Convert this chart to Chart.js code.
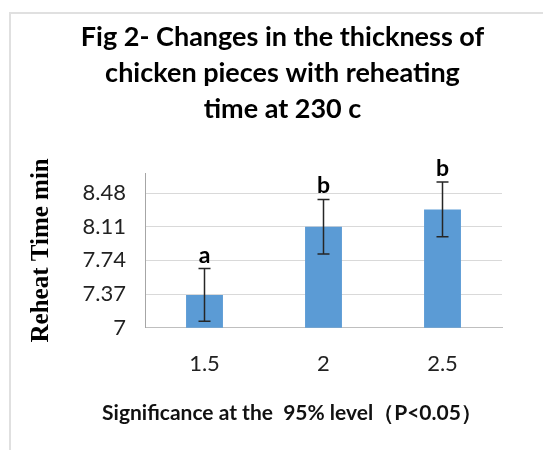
<!DOCTYPE html>
<html>
<head>
<meta charset="utf-8">
<script src="https://cdn.jsdelivr.net/npm/chart.js@4"></script>
<style>
  body { margin: 0; background: #fff; overflow: hidden; }
  #frame { position: absolute; left: 9px; top: 12px; width: 600px; height: 500px; border: 2px solid #e0e0e0; }
  #wrap { position: absolute; left: 0; top: 0; width: 543px; height: 450px; }
</style>
</head>
<body>
<div id="frame"></div>
<div id="wrap"><canvas id="barChart" width="543" height="450"></canvas></div>
<script>
// reheating time groups and measured values
const categories = ['1.5', '2', '2.5'];
const means = [7.36, 8.11, 8.30];
const errors = [0.29, 0.30, 0.30];
const sigLetters = ['a', 'b', 'b'];
const yTicks = [7, 7.37, 7.74, 8.11, 8.48];
const yTickLabels = ['7', '7.37', '7.74', '8.11', '8.48'];

const titleLines = ['Fig 2- Changes in the thickness of', 'chicken pieces with reheating', 'time at 230 c'];
const yTitle = 'Reheat Time min';
const xTitle = 'Significance at the  95% level\uFF08P<0.05\uFF09';

// error bars, letters and the x axis caption
const extras = {
  id: 'extras',
  afterDatasetsDraw(chart) {
    const ctx = chart.ctx;
    const meta = chart.getDatasetMeta(0);
    const y = chart.scales.y;
    ctx.save();
    ctx.strokeStyle = '#262626';
    ctx.lineWidth = 1.5;
    meta.data.forEach((bar, i) => {
      const top = y.getPixelForValue(means[i] + errors[i]);
      const bot = y.getPixelForValue(means[i] - errors[i]);
      ctx.beginPath();
      ctx.moveTo(bar.x, top); ctx.lineTo(bar.x, bot);
      ctx.moveTo(bar.x - 6, top); ctx.lineTo(bar.x + 6, top);
      ctx.moveTo(bar.x - 6, bot); ctx.lineTo(bar.x + 6, bot);
      ctx.stroke();

      ctx.fillStyle = '#000';
      ctx.font = 'bold 23px Lato';
      ctx.textAlign = 'center';
      ctx.textBaseline = 'alphabetic';
      ctx.fillText(sigLetters[i], bar.x, top - 6);
    });

    ctx.fillStyle = '#111';
    ctx.font = 'bold 21px Lato';
    ctx.textAlign = 'center';
    ctx.textBaseline = 'middle';
    ctx.fillText(xTitle, 292, 413);
    ctx.restore();
  }
};

let ctxBar = document.getElementById('barChart').getContext('2d');

let BarChart = new Chart(ctxBar, {
  type: 'bar',
  data: {
    labels: categories,
    datasets: [{
      data: means,
      backgroundColor: '#5b9bd5',
      barPercentage: 0.31,
      categoryPercentage: 1,
    }]
  },
  options: {
    responsive: false,
    animation: false,
    layout: { padding: { left: 22, right: 0, top: 0, bottom: 0 } },
    plugins: {
      legend: { display: false },
      tooltip: { enabled: false },
      title: {
        display: true,
        text: titleLines,
        color: '#000',
        font: { family: 'Lato', size: 27, weight: 'bold', lineHeight: 36 / 27 },
        padding: { top: 19, bottom: 46 },
      }
    },
    scales: {
      x: {
        grid: { display: false, drawTicks: false },
        border: { color: '#bfbfbf' },
        ticks: { color: '#222', font: { family: 'Lato', size: 22 }, padding: 23 },
        afterFit: (scale) => { scale.height = 122.3; }
      },
      y: {
        min: 7,
        max: 8.7,
        grid: { color: '#d9d9d9', drawTicks: false },
        border: { color: '#a6a6a6' },
        afterBuildTicks: (scale) => { scale.ticks = yTicks.map(v => ({ value: v })); },
        ticks: {
          color: '#222',
          font: { family: 'Lato', size: 22 },
          padding: 19,
          callback: (value, index) => yTickLabels[index]
        },
        title: {
          display: true,
          text: yTitle,
          color: '#000',
          font: { family: 'Liberation Serif', size: 25, weight: 'bold' },
          padding: { top: 5, bottom: 0 }
        },
        afterFit: (scale) => { scale.width = 123; }
      },
      yR: {
        position: 'right',
        grid: { display: false },
        border: { display: false },
        ticks: { display: false },
        afterFit: (scale) => { scale.width = 41; }
      }
    }
  },
  plugins: [extras]
});
</script>
</body>
</html>
